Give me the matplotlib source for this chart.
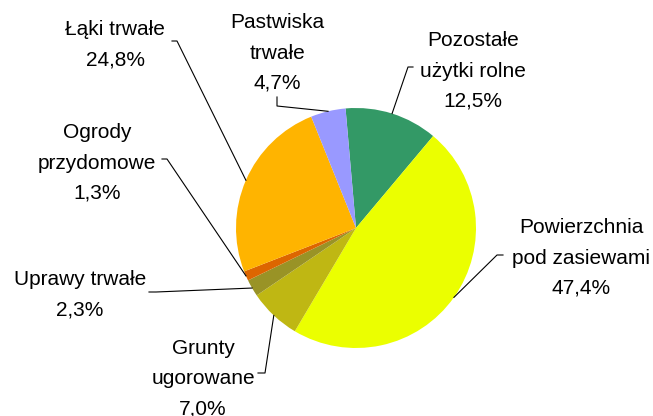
import numpy as np
import matplotlib.pyplot as plt

plt.rcParams['font.family'] = ['Liberation Sans', 'DejaVu Sans']

# --- DANE ---
kategorie = ["Pozostałe\nużytki rolne", "Powierzchnia\npod zasiewami", "Grunty\nugorowane",
             "Uprawy trwałe", "Ogrody\nprzydomowe", "Łąki trwałe", "Pastwiska\ntrwałe"]
udzialy = [12.5, 47.4, 7.0, 2.3, 1.3, 24.8, 4.7]
kolory = ["#339966", "#EBFF00", "#BFB713", "#999326", "#DD6600", "#FFB400", "#9999FF"]

# --- UKŁAD (piksele obrazu: środek koła, promień) ---
W, H = 653, 416
cx, cy, R = 356, 228, 120

def px(x, y):
    # piksele -> jednostki koła
    return (x - cx) / R, (cy - y) / R

# środek tekstu i łamana linii odniesienia (piksele)
etykiety_xy = [(473, 71), (581, 258), (203, 379), (80, 295), (97, 163), (115, 45), (277, 53)]
linie = [[(413, 67), (408, 67)],
         [(503, 255), (497, 255)],
         [(258, 373), (265, 373)],
         [(149, 292), (156, 292)],
         [(162, 159), (167, 159)],
         [(172, 41), (177, 41)],
         [(277, 97), (277, 106)]]

fig = plt.figure(figsize=(W / 100, H / 100), dpi=100)
ax = fig.add_axes([0, 0, 1, 1])

wedges, _ = ax.pie(udzialy, colors=kolory, startangle=95, counterclock=False,
                   radius=1, wedgeprops=dict(linewidth=0))

ax.set_xlim(-cx / R, (W - cx) / R)
ax.set_ylim((cy - H) / R, cy / R)
ax.axis('off')

for w, nazwa, proc, (tx, ty), pkt in zip(wedges, kategorie, udzialy, etykiety_xy, linie):
    kat = np.deg2rad((w.theta1 + w.theta2) / 2)
    ax_, ay_ = np.cos(kat), np.sin(kat)
    xs = [px(*p)[0] for p in pkt] + [ax_]
    ys = [px(*p)[1] for p in pkt] + [ay_]
    ax.plot(xs, ys, color='k', linewidth=0.8)
    tekst = f"{nazwa}\n{proc:.1f}%".replace('.', ',')
    x, y = px(tx, ty)
    ax.text(x, y, tekst, ha='center', va='center', fontsize=15, linespacing=1.75)

plt.savefig("out.png", dpi=100)
